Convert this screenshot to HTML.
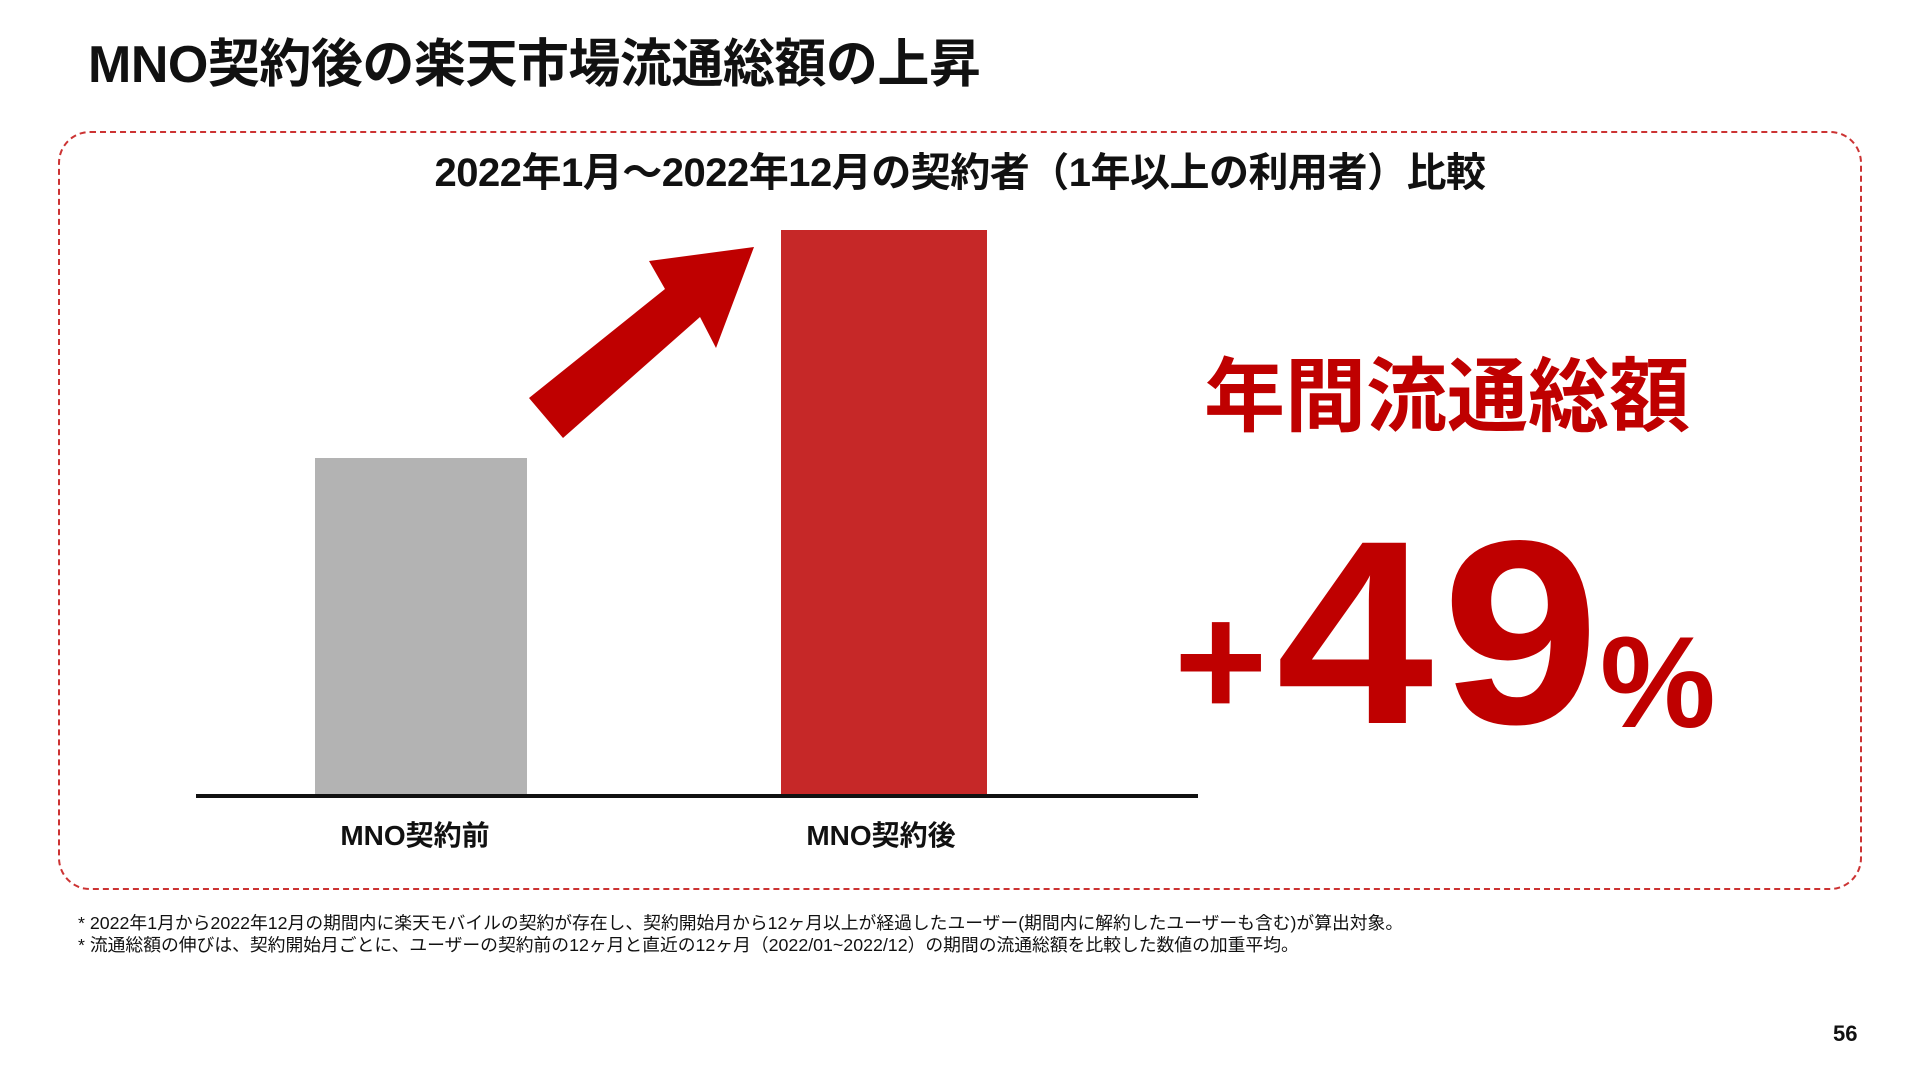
<!DOCTYPE html>
<html><head><meta charset="utf-8"><style>
body{margin:0;width:1920px;height:1080px;background:#fff;position:relative;overflow:hidden;font-family:"Liberation Sans","Noto Sans CJK JP",sans-serif;color:#111}
.a{position:absolute;white-space:nowrap}
.r{color:#bf0000;font-weight:bold;line-height:1}
</style></head><body>
<div class="a" style="left:88px;top:22px;font-size:52px;font-weight:bold;letter-spacing:-0.5px">MNO契約後の楽天市場流通総額の上昇</div>
<div class="a" style="left:58px;top:131px;width:1800px;height:755px;border:2px dashed #cc3333;border-radius:32px"></div>
<div class="a" style="left:0;width:1920px;text-align:center;top:140px;font-size:40px;font-weight:bold;letter-spacing:-0.5px">2022年1月～2022年12月の契約者（1年以上の利用者）比較</div>
<div class="a" style="left:315px;top:458px;width:212px;height:338px;background:#b3b3b3"></div>
<div class="a" style="left:781px;top:230px;width:206px;height:566px;background:#c62828"></div>
<div class="a" style="left:196px;top:794px;width:1002px;height:4px;background:#111"></div>
<div class="a" style="left:315px;width:200px;text-align:center;top:814px;font-size:28px;font-weight:bold">MNO契約前</div>
<div class="a" style="left:781px;width:200px;text-align:center;top:814px;font-size:28px;font-weight:bold">MNO契約後</div>
<svg class="a" style="left:0;top:0" width="1920" height="1080"><polygon points="754,247 716,348 700,317 563,438 529,398 665,289 649,261" fill="#bf0000"/></svg>
<div class="a" style="left:1204px;top:332px;font-size:81px;font-weight:bold;color:#bf0000">年間流通総額</div>
<div class="a r" style="left:1174px;top:581px;font-size:160px">+</div>
<div class="a r" style="left:1276px;top:502px;font-size:262px;letter-spacing:8px;transform:scaleX(1.08);transform-origin:0 0">49</div>
<div class="a r" style="left:1600px;top:617px;font-size:130px;letter-spacing:-4px">%</div>
<div class="a" style="left:78px;top:912px;font-size:17.8px;line-height:22px">* 2022年1月から2022年12月の期間内に楽天モバイルの契約が存在し、契約開始月から12ヶ月以上が経過したユーザー(期間内に解約したユーザーも含む)が算出対象。<br>* 流通総額の伸びは、契約開始月ごとに、ユーザーの契約前の12ヶ月と直近の12ヶ月（2022/01~2022/12）の期間の流通総額を比較した数値の加重平均。</div>
<div class="a" style="left:1833px;top:1021px;font-size:22px;font-weight:bold">56</div>
</body></html>
